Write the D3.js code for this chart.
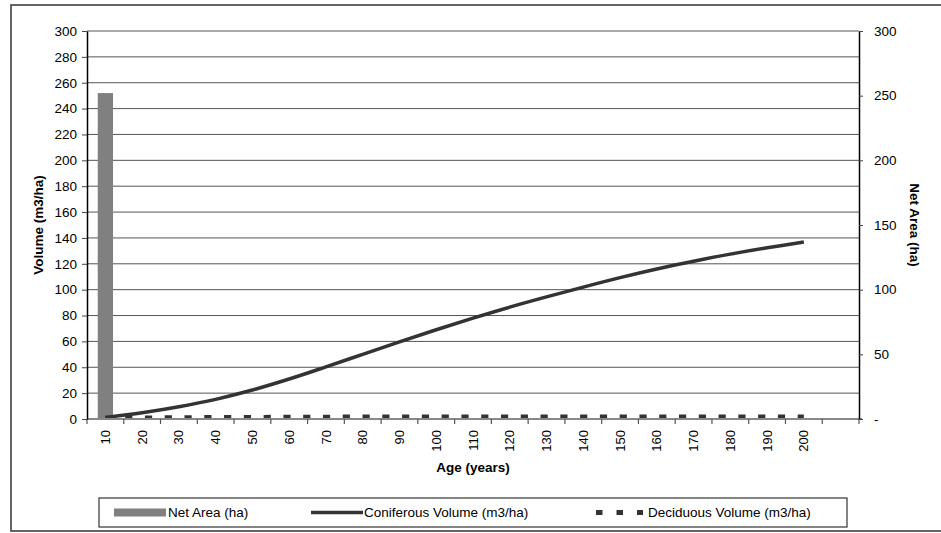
<!DOCTYPE html>
<html>
<head>
<meta charset="utf-8">
<script src="https://cdn.jsdelivr.net/npm/d3@7"></script>
<style>
  html, body { margin: 0; padding: 0; background: #fff; }
  svg { display: block; font-family: "Liberation Sans", Arial, sans-serif; }
  svg text { fill: #000; }
</style>
</head>
<body>
<svg id="chart" width="941" height="533"></svg>
<script>
// Stand age classes (the last class is an empty slot on the axis)
const ageLabels = ["10", "20", "30", "40", "50", "60", "70", "80", "90", "100",
                   "110", "120", "130", "140", "150", "160", "170", "180", "190", "200", ""];
const seriesAges = ageLabels.slice(0, 20);

// Net area per age class (ha) – right axis
const netArea = [252, 0, 0, 0, 0, 0, 0, 0, 0, 0, 0, 0, 0, 0, 0, 0, 0, 0, 0, 0];
// Coniferous yield curve (m3/ha) – left axis
const coniferous = [1.2, 4.9, 9.5, 15.2, 22.4, 30.9, 40.3, 50, 59.7, 69,
                    78, 86.5, 94.4, 102, 109.3, 116, 122, 127.5, 132.4, 136.8];
// Deciduous yield curve (m3/ha) – left axis
const deciduous = [1.0, 1.2, 1.4, 1.5, 1.6, 1.7, 1.8, 1.9, 1.9, 2.0,
                   2.0, 2.0, 2.0, 2.0, 2.0, 2.0, 2.0, 2.0, 2.0, 2.0];

const leftTicks = [0, 20, 40, 60, 80, 100, 120, 140, 160, 180, 200, 220, 240, 260, 280, 300];
const rightTicks = [0, 50, 100, 150, 200, 250, 300];
const rightTickLabels = ["-", "50", "100", "150", "200", "250", "300"];

const legendItems = ["Net Area (ha)", "Coniferous Volume (m3/ha)", "Deciduous Volume (m3/ha)"];

const svg = d3.select("#chart");
const plot = { left: 87, right: 859, top: 31, bottom: 419 };
const FS = "13.5px";

const x = d3.scaleBand().domain(ageLabels).range([plot.left, plot.right]).padding(0);
const yL = d3.scaleLinear().domain([0, 300]).range([plot.bottom, plot.top]);
const yR = d3.scaleLinear().domain([0, 300]).range([plot.bottom, plot.top]);
const cx = d => x(d) + x.bandwidth() / 2;

// Chart frame
svg.append("rect")
  .attr("x", 11).attr("y", 5).attr("width", 950).attr("height", 526)
  .attr("fill", "none").attr("stroke", "#333").attr("stroke-width", 1.5);

// Horizontal gridlines
svg.append("g").selectAll("line")
  .data(leftTicks.filter(v => v > 0))
  .join("line")
  .attr("x1", plot.left).attr("x2", plot.right)
  .attr("y1", d => yL(d)).attr("y2", d => yL(d))
  .attr("stroke", "#555").attr("stroke-width", 1);

// Net area bars
const barW = x.bandwidth() * 0.416;
svg.append("g").selectAll("rect")
  .data(seriesAges.map((a, i) => ({ age: a, v: netArea[i] })))
  .join("rect")
  .attr("x", d => cx(d.age) - barW / 2)
  .attr("width", barW)
  .attr("y", d => yR(d.v))
  .attr("height", d => yR(0) - yR(d.v))
  .attr("fill", "#808080");

// Deciduous volume: square-dotted line
const lineGen = d3.line().x(d => cx(d.age)).y(d => yL(d.v));
svg.append("path")
  .datum(seriesAges.map((a, i) => ({ age: a, v: deciduous[i] })))
  .attr("d", lineGen)
  .attr("fill", "none").attr("stroke", "#333").attr("stroke-width", 4)
  .attr("stroke-dasharray", "7.2,12.58");

// Coniferous volume: smooth solid line
svg.append("path")
  .datum(seriesAges.map((a, i) => ({ age: a, v: coniferous[i] })))
  .attr("d", lineGen.curve(d3.curveCatmullRom.alpha(0.5)))
  .attr("fill", "none").attr("stroke", "#333").attr("stroke-width", 3.5)
  .attr("stroke-linejoin", "round");

// Category axis: baseline, boundary ticks, rotated labels
const xg = svg.append("g");
xg.append("line")
  .attr("x1", plot.left).attr("x2", plot.right + 3)
  .attr("y1", plot.bottom).attr("y2", plot.bottom)
  .attr("stroke", "#888").attr("stroke-width", 2);
xg.selectAll("line.tick")
  .data(ageLabels.map(d => x(d)).concat([plot.right]))
  .join("line").attr("class", "tick")
  .attr("x1", d => d).attr("x2", d => d)
  .attr("y1", plot.bottom).attr("y2", plot.bottom + 5)
  .attr("stroke", "#555").attr("stroke-width", 1.2);
xg.selectAll("text")
  .data(ageLabels)
  .join("text")
  .attr("transform", d => `translate(${cx(d)},${plot.bottom + 11}) rotate(-90)`)
  .attr("text-anchor", "end").attr("dy", "0.35em")
  .style("font-size", "13px")
  .text(d => d);

// Left value axis
const gL = svg.append("g")
  .attr("transform", `translate(${plot.left},0)`)
  .call(d3.axisLeft(yL).tickValues(leftTicks).tickSize(5).tickPadding(5).tickSizeOuter(0))
  .attr("font-family", null).attr("font-size", null);
gL.select(".domain").attr("stroke", "#000").attr("stroke-width", 1.5);
gL.selectAll(".tick line").attr("stroke", "#444");
gL.selectAll(".tick text").style("font-size", FS);

// Right value axis
const gR = svg.append("g")
  .attr("transform", `translate(${plot.right},0)`)
  .call(d3.axisRight(yR).tickValues(rightTicks)
    .tickFormat((d, i) => rightTickLabels[i]).tickSize(4).tickPadding(11).tickSizeOuter(0))
  .attr("font-family", null).attr("font-size", null);
gR.select(".domain").attr("stroke", "#000").attr("stroke-width", 1.5);
gR.selectAll(".tick line").attr("stroke", "#444");
gR.selectAll(".tick text").style("font-size", FS);

// Axis titles
svg.append("text")
  .attr("transform", `translate(38,${(plot.top + plot.bottom) / 2}) rotate(-90)`)
  .attr("text-anchor", "middle").attr("dy", "0.35em")
  .style("font-size", FS).style("font-weight", "bold")
  .text("Volume (m3/ha)");
svg.append("text")
  .attr("transform", `translate(915,${(plot.top + plot.bottom) / 2}) rotate(90)`)
  .attr("text-anchor", "middle").attr("dy", "0.35em")
  .style("font-size", FS).style("font-weight", "bold")
  .text("Net Area (ha)");
svg.append("text")
  .attr("x", (plot.left + plot.right) / 2).attr("y", 472)
  .attr("text-anchor", "middle")
  .style("font-size", FS).style("font-weight", "bold")
  .text("Age (years)");

// Legend
const lg = svg.append("g");
lg.append("rect")
  .attr("x", 99).attr("y", 498).attr("width", 748).attr("height", 29)
  .attr("fill", "#fff").attr("stroke", "#333").attr("stroke-width", 1.2);
const ly = 512.5;
lg.append("rect").attr("x", 114).attr("y", ly - 4).attr("width", 52).attr("height", 8).attr("fill", "#808080");
lg.append("line").attr("x1", 311).attr("x2", 363).attr("y1", ly).attr("y2", ly)
  .attr("stroke", "#333").attr("stroke-width", 3.5);
lg.append("line").attr("x1", 596).attr("x2", 643).attr("y1", ly).attr("y2", ly)
  .attr("stroke", "#333").attr("stroke-width", 5).attr("stroke-dasharray", "6.5,14");
lg.selectAll("text.leg")
  .data(legendItems.map((t, i) => ({ t, x: [168, 364, 648][i] })))
  .join("text").attr("class", "leg")
  .attr("x", d => d.x).attr("y", ly).attr("dy", "0.35em")
  .style("font-size", FS)
  .text(d => d.t);
</script>
</body>
</html>
